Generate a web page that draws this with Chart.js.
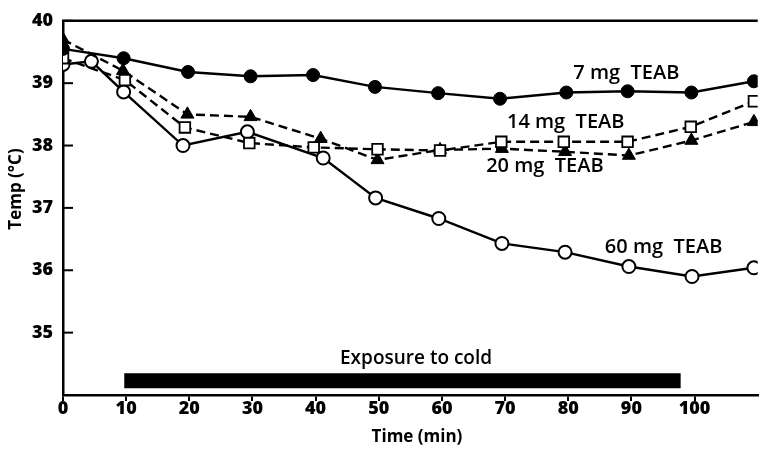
<!DOCTYPE html>
<html>
<head>
<meta charset="utf-8">
<script src="https://cdn.jsdelivr.net/npm/chart.js@4"></script>
<style>
  html, body { margin: 0; padding: 0; background: #fff; }
  #wrap { width: 767px; height: 450px; position: relative; }
</style>
</head>
<body>
<div id="wrap"><canvas id="c" width="767" height="450"></canvas></div>
<script>
// ---- data ----
const xTicks = [0, 10, 20, 30, 40, 50, 60, 70, 80, 90, 100];
const yTicks = [35, 36, 37, 38, 39, 40];

const t7   = [0, 9.6, 19.8, 29.7, 39.6, 49.4, 59.4, 69.2, 79.7, 89.4, 99.5, 109.4];
const v7   = [39.55, 39.40, 39.18, 39.11, 39.13, 38.94, 38.84, 38.75, 38.85, 38.87, 38.85, 39.03];

const t14  = [0, 9.8, 19.3, 29.5, 39.7, 49.8, 59.7, 69.4, 79.3, 89.4, 99.4, 109.4];
const v14  = [39.40, 39.05, 38.29, 38.04, 37.97, 37.94, 37.92, 38.06, 38.06, 38.06, 38.30, 38.71];

const t20  = [0, 9.5, 19.7, 29.7, 40.8, 49.8, 59.7, 69.5, 79.5, 89.6, 99.5, 109.4];
const v20  = [39.70, 39.20, 38.50, 38.46, 38.11, 37.77, 37.93, 37.95, 37.90, 37.84, 38.08, 38.38];

const t60  = [0, 4.5, 9.6, 19.0, 29.2, 41.2, 49.5, 59.5, 69.5, 79.5, 89.6, 99.6, 109.4];
const v60  = [39.30, 39.35, 38.86, 38.00, 38.22, 37.80, 37.16, 36.83, 36.43, 36.29, 36.06, 35.90, 36.04];

const exposureStart = 9.7, exposureEnd = 97.8, exposureLevel = 34.23;

const seriesLabels = ['7 mg  TEAB', '14 mg  TEAB', '20 mg  TEAB', '60 mg  TEAB'];
const exposureLabel = 'Exposure to cold';

function pts(xs, ys) { return xs.map((x, i) => ({ x: x, y: ys[i] })); }

const FONT = '"Open Sans"';

const annot = {
  id: 'annot',
  afterDraw(chart) {
    const ctx = chart.ctx;
    const xs = chart.scales.x, ys = chart.scales.y;
    const ca = chart.chartArea;
    ctx.save();
    // top border
    ctx.strokeStyle = '#000';
    ctx.lineWidth = 2.5;
    ctx.beginPath();
    ctx.moveTo(ca.left - 1, ca.top);
    ctx.lineTo(ca.right, ca.top);
    ctx.stroke();
    // inward y tick marks
    ctx.lineWidth = 2;
    yTicks.forEach(v => {
      const py = ys.getPixelForValue(v);
      ctx.beginPath();
      ctx.moveTo(ca.left, py);
      ctx.lineTo(ca.left + 10, py);
      ctx.stroke();
    });
    // series labels
    ctx.fillStyle = '#000';
    ctx.font = '600 20px ' + FONT;
    ctx.textBaseline = 'middle';
    ctx.textAlign = 'left';
    const lp = [[80.8, 39.16], [70.3, 38.37], [67.0, 37.66], [85.8, 36.37]];
    seriesLabels.forEach((s, i) => {
      ctx.fillText(s, xs.getPixelForValue(lp[i][0]), ys.getPixelForValue(lp[i][1]));
    });
    ctx.textAlign = 'center';
    ctx.font = '600 19px ' + FONT;
    ctx.fillText(exposureLabel, xs.getPixelForValue(55.9), ys.getPixelForValue(34.58));
    // axis titles
    ctx.font = 'bold 17px ' + FONT;
    ctx.fillText('Time (min)', 417, 437);
    ctx.translate(16, 189);
    ctx.rotate(-Math.PI / 2);
    ctx.fillText('Temp (°C)', 0, 0);
    ctx.restore();
  }
};

new Chart(document.getElementById('c'), {
  type: 'line',
  data: {
    datasets: [
      {
        label: seriesLabels[0], data: pts(t7, v7),
        borderColor: '#000', borderWidth: 2.4, backgroundColor: '#000',
        pointStyle: 'circle', pointRadius: 6.5, pointBorderWidth: 1,
        pointBackgroundColor: '#000', pointBorderColor: '#000'
      },
      {
        label: seriesLabels[1], data: pts(t14, v14),
        borderColor: '#000', borderWidth: 2.4, borderDash: [9, 5],
        pointStyle: 'rect', pointRadius: 7.5, pointBorderWidth: 1.8,
        pointBackgroundColor: '#fff', pointBorderColor: '#000'
      },
      {
        label: seriesLabels[2], data: pts(t20, v20),
        borderColor: '#000', borderWidth: 2.4, borderDash: [9, 5],
        pointStyle: 'triangle', pointRadius: 7.5, pointBorderWidth: 1,
        pointBackgroundColor: '#000', pointBorderColor: '#000'
      },
      {
        label: seriesLabels[3], data: pts(t60, v60),
        borderColor: '#000', borderWidth: 2.4,
        pointStyle: 'circle', pointRadius: 6.5, pointBorderWidth: 2,
        pointBackgroundColor: '#fff', pointBorderColor: '#000'
      },
      {
        label: exposureLabel,
        data: [{ x: exposureStart, y: exposureLevel }, { x: exposureEnd, y: exposureLevel }],
        borderColor: '#000', borderWidth: 15, borderCapStyle: 'butt',
        pointRadius: 0
      }
    ]
  },
  options: {
    responsive: false,
    animation: false,
    devicePixelRatio: 1,
    layout: { padding: { top: 15, right: 0, left: 0, bottom: 0 } },
    plugins: { legend: { display: false }, tooltip: { enabled: false } },
    elements: { line: { tension: 0 } },
    scales: {
      x: {
        type: 'linear', min: 0, max: 110,
        afterFit(s) { s.height = 55; },
        afterBuildTicks(s) { s.ticks = xTicks.map(v => ({ value: v })); },
        border: { display: true, color: '#000', width: 2.5 },
        grid: { display: true, drawOnChartArea: false, drawTicks: true, tickLength: 6, color: '#000', lineWidth: 2 },
        ticks: { color: '#000', font: { family: FONT, size: 18, weight: 800 }, padding: -3, maxRotation: 0, autoSkip: false },
        title: { display: false }
      },
      y: {
        type: 'linear', min: 34, max: 40,
        afterFit(s) { s.width = 63; },
        afterBuildTicks(s) { s.ticks = yTicks.map(v => ({ value: v })); },
        border: { display: true, color: '#000', width: 2.5 },
        grid: { display: false, drawTicks: false },
        ticks: { color: '#000', font: { family: FONT, size: 18, weight: 800 }, padding: 10 }
      }
    }
  },
  plugins: [annot]
});
</script>
</body>
</html>
